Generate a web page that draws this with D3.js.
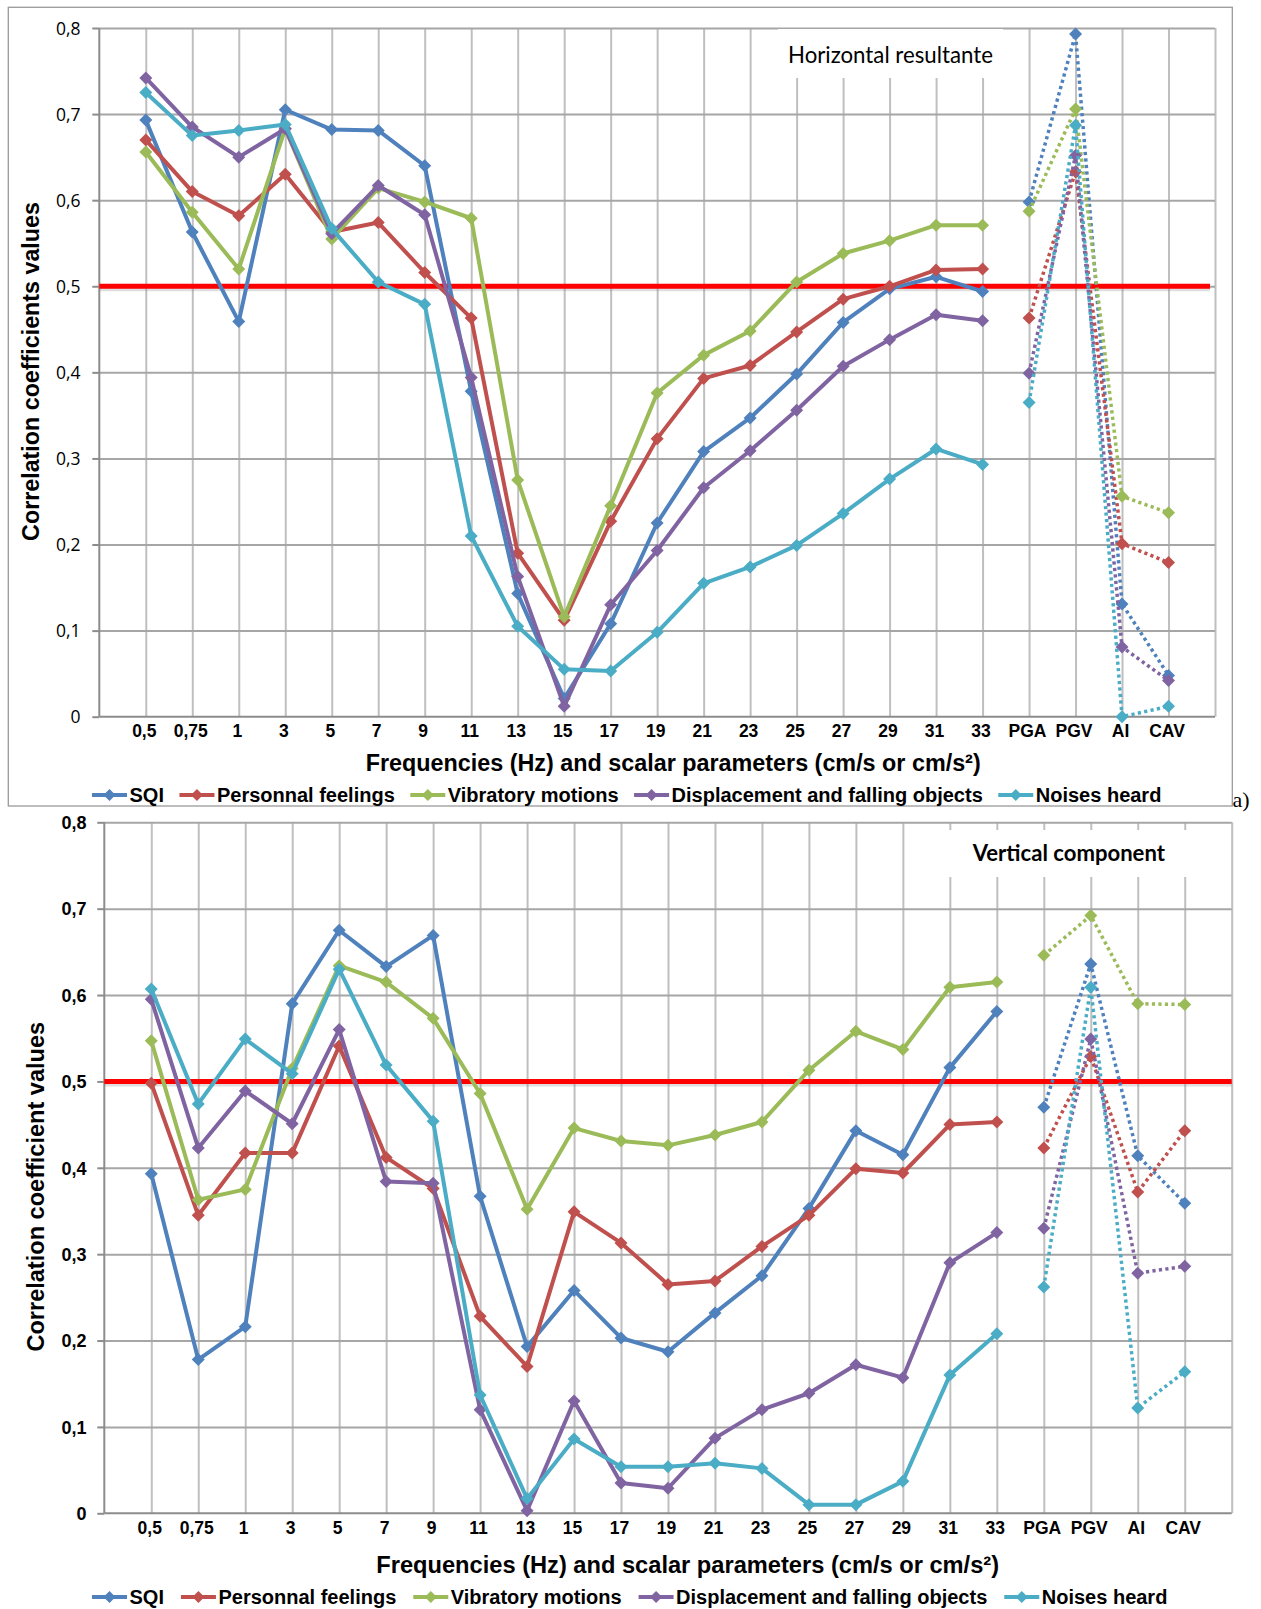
<!DOCTYPE html>
<html>
<head>
<meta charset="utf-8">
<script src="https://cdn.jsdelivr.net/npm/d3@7"></script>
<style>
  body { margin: 0; background: #fff; }
  svg { display: block; }
</style>
</head>
<body>
<svg id="fig" width="1261" height="1609"></svg>
<script>
// ---- categories and tick labels ----
const categories = ["0,5", "0,75", "1", "3", "5", "7", "9", "11", "13", "15", "17", "19",
                    "21", "23", "25", "27", "29", "31", "33", "PGA", "PGV", "AI", "CAV"];
const frequencyCount = 19;            // first 19 categories are frequencies, the rest scalar parameters
const yTickValues = [0, 0.1, 0.2, 0.3, 0.4, 0.5, 0.6, 0.7, 0.8];
const yTickLabels = ["0", "0,1", "0,2", "0,3", "0,4", "0,5", "0,6", "0,7", "0,8"];
const threshold = 0.5;
const seriesNames = ["SQI", "Personnal feelings", "Vibratory motions",
                     "Displacement and falling objects", "Noises heard"];

// ---- horizontal resultante ----
const hSQI          = [0.693, 0.563, 0.459, 0.705, 0.682, 0.681, 0.640, 0.378, 0.143, 0.021, 0.108, 0.225, 0.308, 0.347, 0.398, 0.458, 0.497, 0.511, 0.494, 0.598, 0.793, 0.131, 0.048];
const hFeelings     = [0.670, 0.610, 0.582, 0.630, 0.563, 0.574, 0.516, 0.463, 0.190, 0.112, 0.227, 0.323, 0.393, 0.408, 0.447, 0.485, 0.500, 0.519, 0.520, 0.463, 0.633, 0.201, 0.179];
const hVibratory    = [0.656, 0.586, 0.520, 0.683, 0.555, 0.614, 0.598, 0.579, 0.275, 0.116, 0.245, 0.376, 0.420, 0.448, 0.505, 0.538, 0.553, 0.571, 0.571, 0.587, 0.706, 0.256, 0.237];
const hDisplacement = [0.742, 0.685, 0.650, 0.683, 0.561, 0.617, 0.583, 0.394, 0.163, 0.012, 0.130, 0.193, 0.266, 0.309, 0.356, 0.407, 0.438, 0.467, 0.460, 0.399, 0.652, 0.081, 0.042];
const hNoises       = [0.725, 0.675, 0.681, 0.688, 0.567, 0.505, 0.479, 0.210, 0.105, 0.055, 0.053, 0.098, 0.155, 0.174, 0.199, 0.236, 0.276, 0.311, 0.293, 0.365, 0.687, 0.000, 0.012];

// ---- vertical component ----
const vSQI          = [0.393, 0.178, 0.216, 0.590, 0.675, 0.633, 0.669, 0.367, 0.193, 0.258, 0.203, 0.187, 0.232, 0.275, 0.353, 0.443, 0.415, 0.516, 0.581, 0.470, 0.636, 0.414, 0.359];
const vFeelings     = [0.498, 0.345, 0.417, 0.417, 0.541, 0.412, 0.376, 0.228, 0.170, 0.349, 0.313, 0.265, 0.269, 0.309, 0.345, 0.399, 0.394, 0.450, 0.453, 0.423, 0.529, 0.372, 0.443];
const vVibratory    = [0.547, 0.363, 0.375, 0.515, 0.634, 0.615, 0.573, 0.486, 0.352, 0.446, 0.431, 0.426, 0.438, 0.453, 0.513, 0.558, 0.537, 0.609, 0.615, 0.646, 0.692, 0.590, 0.589];
const vDisplacement = [0.595, 0.423, 0.489, 0.451, 0.560, 0.384, 0.382, 0.120, 0.003, 0.130, 0.035, 0.029, 0.087, 0.120, 0.139, 0.172, 0.157, 0.290, 0.325, 0.330, 0.549, 0.278, 0.286];
const vNoises       = [0.607, 0.474, 0.549, 0.509, 0.630, 0.519, 0.454, 0.137, 0.017, 0.086, 0.054, 0.054, 0.058, 0.052, 0.010, 0.010, 0.037, 0.160, 0.208, 0.262, 0.609, 0.122, 0.164];

// ---- styling ----
const seriesColors = ["#4F81BD", "#C0504D", "#9BBB59", "#8064A2", "#4BACC6"];
const SANS = "'Liberation Sans', Arial, sans-serif";
const HUMAN = "'Open Sans', 'Noto Sans', sans-serif";
const LABEL = "Lato, 'Open Sans', sans-serif";

const svg = d3.select("#fig");

// set a text's font size so that its rendered width equals the wanted width
function fitWidth(sel, width) {
  const fs = parseFloat(sel.attr("font-size"));
  const w = sel.node().getComputedTextLength();
  if (w > 0) sel.attr("font-size", (fs * width / w).toFixed(2));
  return sel;
}

const diamond = r => `M0,${-r}L${r},0L0,${r}L${-r},0Z`;

function drawPanel(p) {
  const g = svg.append("g");
  const x = d3.scaleLinear().domain([0, categories.length + 1]).range([p.left, p.right]);
  const y = d3.scaleLinear().domain([0, 0.8]).range([p.bottom, p.top]);
  const plotW = p.right - p.left;
  const plotH = p.bottom - p.top;

  // vertical gridlines (one per category plus the closing edge)
  const vIdx = d3.range(1, categories.length + 2);
  g.append("g")
    .attr("transform", `translate(0,${p.bottom})`)
    .call(d3.axisBottom(x).tickValues(vIdx).tickSize(-plotH).tickFormat(""))
    .call(a => a.select(".domain").remove())
    .call(a => a.selectAll("line").attr("stroke", "#BFBFBF").attr("stroke-width", 2));

  // horizontal gridlines
  g.append("g")
    .attr("transform", `translate(${p.left},0)`)
    .call(d3.axisLeft(y).tickValues(yTickValues.slice(1)).tickSize(-plotW).tickFormat(""))
    .call(a => a.select(".domain").remove())
    .call(a => a.selectAll("line").attr("stroke", "#A6A6A6").attr("stroke-width", 2));

  // panel label on a white box
  g.append("rect")
    .attr("x", p.box[0]).attr("y", p.box[1]).attr("width", p.box[2]).attr("height", p.box[3])
    .attr("fill", "#fff");
  const lab = g.append("text")
    .attr("x", p.labelX).attr("y", p.labelY)
    .attr("font-family", LABEL).attr("font-weight", p.labelWeight)
    .attr("font-size", 20).attr("fill", "#000")
    .text(p.label);
  fitWidth(lab, p.labelW);

  // y axis with outward ticks
  const yAxis = g.append("g")
    .attr("transform", `translate(${p.left},0)`)
    .call(d3.axisLeft(y).tickValues(yTickValues).tickSize(7).tickPadding(0)
      .tickFormat((d, i) => yTickLabels[i]));
  yAxis.select(".domain").attr("stroke", "#8C8C8C").attr("stroke-width", 2)
    .attr("d", `M0,${p.bottom}V${p.top}`);
  yAxis.selectAll("line").attr("stroke", "#8C8C8C").attr("stroke-width", 2);
  yAxis.selectAll("text")
    .attr("x", p.yLabelRight - p.left).attr("dy", "0.35em")
    .attr("font-family", p.yTickFont).attr("font-weight", p.yTickWeight)
    .attr("font-size", p.yTickSize).attr("fill", "#000").attr("text-anchor", "end");

  // x axis with category labels
  const xAxis = g.append("g")
    .attr("transform", `translate(0,${p.bottom})`)
    .call(d3.axisBottom(x).tickValues(d3.range(1, categories.length + 1)).tickSize(0)
      .tickFormat(i => categories[i - 1]));
  xAxis.select(".domain").attr("stroke", "#8C8C8C").attr("stroke-width", 2)
    .attr("d", `M${p.left},0H${p.right}`);
  xAxis.selectAll("text")
    .attr("y", p.xLabelBase - p.bottom).attr("dy", null).attr("x", -2)
    .attr("font-family", SANS).attr("font-weight", "bold")
    .attr("font-size", 17.5).attr("fill", "#000");

  // threshold line with a faint shadow
  g.append("line")
    .attr("x1", p.left).attr("x2", p.right - p.redTrim)
    .attr("y1", y(threshold) + 2).attr("y2", y(threshold) + 2)
    .attr("stroke", "#808080").attr("stroke-opacity", 0.25).attr("stroke-width", 6);
  g.append("line")
    .attr("x1", p.left).attr("x2", p.right - p.redTrim)
    .attr("y1", y(threshold)).attr("y2", y(threshold))
    .attr("stroke", "#FF0000").attr("stroke-width", 5);

  // series: solid over frequencies, dotted over scalar parameters
  const line = d3.line().x(d => x(d.i + 1)).y(d => y(d.v));
  p.series.forEach((vals, s) => {
    const pts = vals.map((v, i) => ({ i, v }));
    const sg = g.append("g");
    sg.append("path").datum(pts.slice(0, frequencyCount))
      .attr("d", line).attr("fill", "none").attr("stroke", seriesColors[s])
      .attr("stroke-width", 4).attr("stroke-linejoin", "round");
    sg.append("path").datum(pts.slice(frequencyCount))
      .attr("d", line).attr("fill", "none").attr("stroke", seriesColors[s])
      .attr("stroke-width", 3.5).attr("stroke-dasharray", "3.2 3.3");
    sg.selectAll("path.m").data(pts).join("path")
      .attr("class", "m")
      .attr("d", diamond(6.5))
      .attr("transform", d => `translate(${x(d.i + 1)},${y(d.v)})`)
      .attr("fill", seriesColors[s]);
  });

  // axis titles
  const yt = g.append("text")
    .attr("transform", `translate(${p.yTitleX},${p.yTitleCY}) rotate(-90)`)
    .attr("text-anchor", "middle")
    .attr("font-family", SANS).attr("font-weight", "bold").attr("font-size", 23).attr("fill", "#000")
    .text(p.yTitle);
  fitWidth(yt, p.yTitleW);
  const xt = g.append("text")
    .attr("x", p.xTitleCX).attr("y", p.xTitleBase).attr("text-anchor", "middle")
    .attr("font-family", SANS).attr("font-weight", "bold").attr("font-size", 23).attr("fill", "#000")
    .text("Frequencies (Hz) and scalar parameters (cm/s or cm/s²)");
  fitWidth(xt, p.xTitleW);

  // legend
  let cx = p.legendX;
  seriesNames.forEach((name, s) => {
    const lg = g.append("g").attr("transform", `translate(${cx},${p.legendY})`);
    lg.append("line").attr("x1", 0).attr("x2", 35).attr("y1", 0).attr("y2", 0)
      .attr("stroke", seriesColors[s]).attr("stroke-width", 4);
    lg.append("path").attr("d", diamond(6)).attr("transform", "translate(17.5,0)")
      .attr("fill", seriesColors[s]);
    const t = lg.append("text").attr("x", 37.5).attr("y", p.legendBase - p.legendY)
      .attr("font-family", SANS).attr("font-weight", "bold").attr("font-size", 20)
      .attr("fill", "#000").text(name);
    cx += 37.5 + t.node().getComputedTextLength() + p.legendGap;
  });
}

// outer frame of the upper chart and its tag
svg.append("rect").attr("x", 8.3).attr("y", 7.3).attr("width", 1224).attr("height", 798.7)
  .attr("fill", "none").attr("stroke", "#9A9A9A").attr("stroke-width", 1.3);

drawPanel({
  series: [hSQI, hFeelings, hVibratory, hDisplacement, hNoises],
  left: 99.3, right: 1215, top: 28, bottom: 716.7, redTrim: 5,
  label: "Horizontal resultante", labelWeight: "normal",
  labelX: 788, labelY: 63, labelW: 205, box: [778, 29, 225, 49],
  yTickFont: HUMAN, yTickWeight: "normal", yTickSize: 17.5, yLabelRight: 80.5,
  xLabelBase: 737,
  yTitle: "Correlation coefficients values", yTitleX: 38.5, yTitleCY: 371.5, yTitleW: 339,
  xTitleCX: 673.2, xTitleBase: 770.5, xTitleW: 615,
  legendX: 92, legendY: 795, legendBase: 801.5, legendGap: 15.5
});

drawPanel({
  series: [vSQI, vFeelings, vVibratory, vDisplacement, vNoises],
  left: 104.3, right: 1231.7, top: 822.3, bottom: 1513.3, redTrim: 0,
  label: "Vertical component", labelWeight: "bold",
  labelX: 972.7, labelY: 860.7, labelW: 192.3, box: [935, 830, 268, 47],
  yTickFont: SANS, yTickWeight: "bold", yTickSize: 18, yLabelRight: 86.5,
  xLabelBase: 1534.3,
  yTitle: "Correlation coefficient values", yTitleX: 43.5, yTitleCY: 1186.7, yTitleW: 330,
  xTitleCX: 687.7, xTitleBase: 1573, xTitleW: 623,
  legendX: 92, legendY: 1597, legendBase: 1603.5, legendGap: 17
});

svg.append("text").attr("x", 1232.5).attr("y", 807)
  .attr("font-family", "'Liberation Serif', 'Times New Roman', serif")
  .attr("font-size", 22).attr("fill", "#000").text("a)");
</script>
</body>
</html>
